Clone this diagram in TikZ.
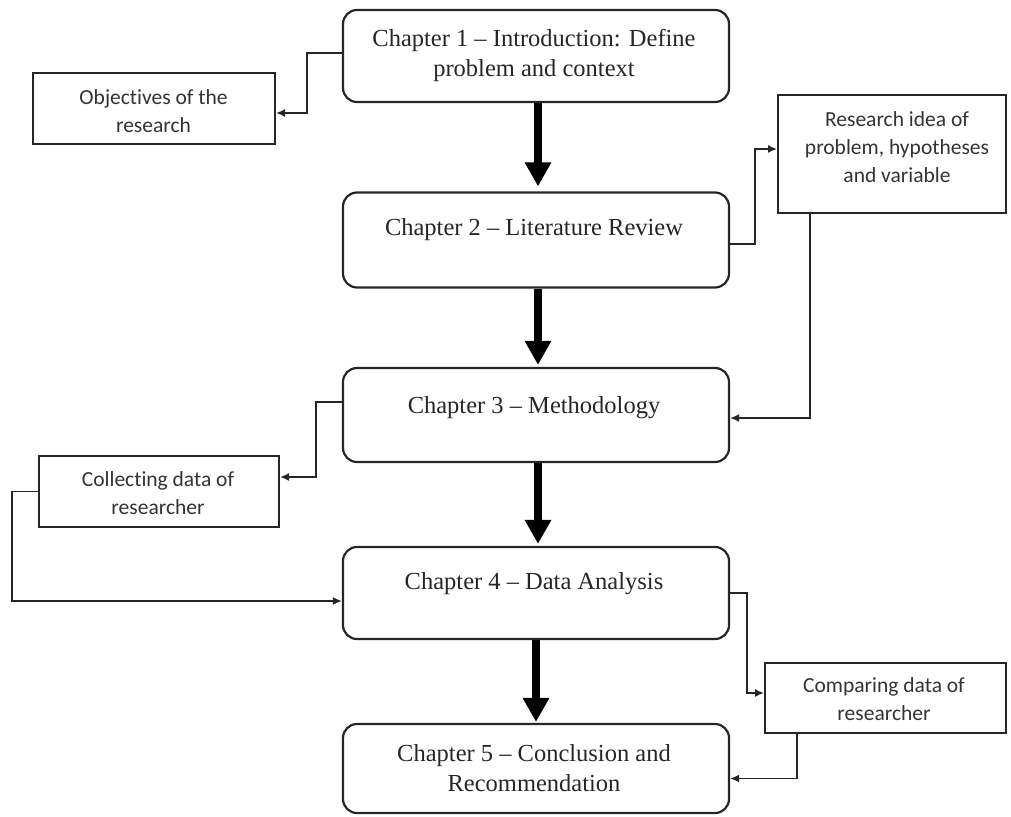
\documentclass[tikz,border=0pt]{standalone}
\usepackage{fontspec}
\setmainfont{Liberation Serif}
\newfontfamily\calibrifont[Ligatures=NoCommon]{Carlito}
\usetikzlibrary{arrows.meta}
\begin{document}
\begin{tikzpicture}[x=1pt,y=-1pt,
  chapbox/.style={draw=black!85,line width=2.2pt,rounded corners=14pt,minimum width=386pt,inner sep=0pt},
  sidebox/.style={draw=black!85,line width=2pt,inner sep=0pt},
  chaptext/.style={font=\fontsize{24.5}{30}\selectfont,align=center,text=black!85,inner sep=0pt},
  sidetext/.style={font=\calibrifont\fontsize{21.5}{28}\selectfont,align=center,text=black!80,inner sep=0pt},
  bigarrow/.style={line width=8pt,-{Triangle[length=24pt,width=25pt]},black},
  conn/.style={line width=1.6pt,draw=black!85,-{Latex[length=9pt,width=8pt]}}]
\useasboundingbox (0,0) rectangle (1011,816);
% chapter boxes
\node[chapbox,minimum height=92pt] (c1) at (536,56) {};
\node[chapbox,minimum height=95pt] (c2) at (536,240) {};
\node[chapbox,minimum height=94pt] (c3) at (536,415) {};
\node[chapbox,minimum height=92pt] (c4) at (536,593) {};
\node[chapbox,minimum height=89pt] (c5) at (536,768.5) {};
\node[chaptext] (t1) at (534,55) {Chapter 1 -- Introduction: Define\\problem and context};
\node[chaptext] (t2) at (534,230) {Chapter 2 -- Literature Review};
\node[chaptext] (t3) at (534,408) {Chapter 3 -- Methodology};
\node[chaptext] (t4) at (534,584) {Chapter 4 -- Data Analysis};
\node[chaptext] (t5) at (534,768) {Chapter 5 -- Conclusion and\\Recommendation};
% side boxes
\node[sidebox,minimum width=242pt,minimum height=71pt] (obj) at (154,108.5) {};
\node[sidebox,minimum width=228pt,minimum height=118pt] (res) at (892,154) {};
\node[sidebox,minimum width=240pt,minimum height=71pt] (col) at (159,491.5) {};
\node[sidebox,minimum width=241pt,minimum height=70pt] (cmp) at (885.5,698) {};
\node[sidetext] (objt) at (153.5,111) {Objectives of the\\research};
\node[sidetext] (rest) at (897,147) {Research idea of\\problem, hypotheses\\and variable};
\node[sidetext] (colt) at (158,493.5) {Collecting data of\\researcher};
\node[sidetext] (cmpt) at (884,699.5) {Comparing data of\\researcher};
% main arrows
\draw[bigarrow] ([xshift=2pt]c1.south) -- ([xshift=2pt,yshift=5pt]c2.north);
\draw[bigarrow] ([xshift=2pt]c2.south) -- ([xshift=2pt,yshift=2pt]c3.north);
\draw[bigarrow] ([xshift=2pt]c3.south) -- ([xshift=2pt,yshift=2pt]c4.north);
\draw[bigarrow] (c4.south) -- ([yshift=1pt]c5.north);
% connectors
\draw[conn] ([yshift=3pt]c1.west) -- ++(-35,0) |- ([yshift=-4.5pt]obj.east);
\draw[conn] ([yshift=-4pt]c2.east) -- ++(25,0) |- ([yshift=5pt]res.west);
\draw[conn] ([xshift=-82pt]res.south) |- ([yshift=-3pt]c3.east);
\draw[conn] ([yshift=13pt]c3.west) -- ++(-26,0) |- ([yshift=14.5pt]col.east);
\draw[conn] (col.west) -- ++(-26,0) |- ([yshift=-8pt]c4.west);
\draw[conn] (c4.east) -- ++(17,0) |- ([yshift=5pt]cmp.west);
\draw[conn] ([xshift=-88.5pt]cmp.south) |- ([yshift=-10pt]c5.east);
\end{tikzpicture}
\end{document}
